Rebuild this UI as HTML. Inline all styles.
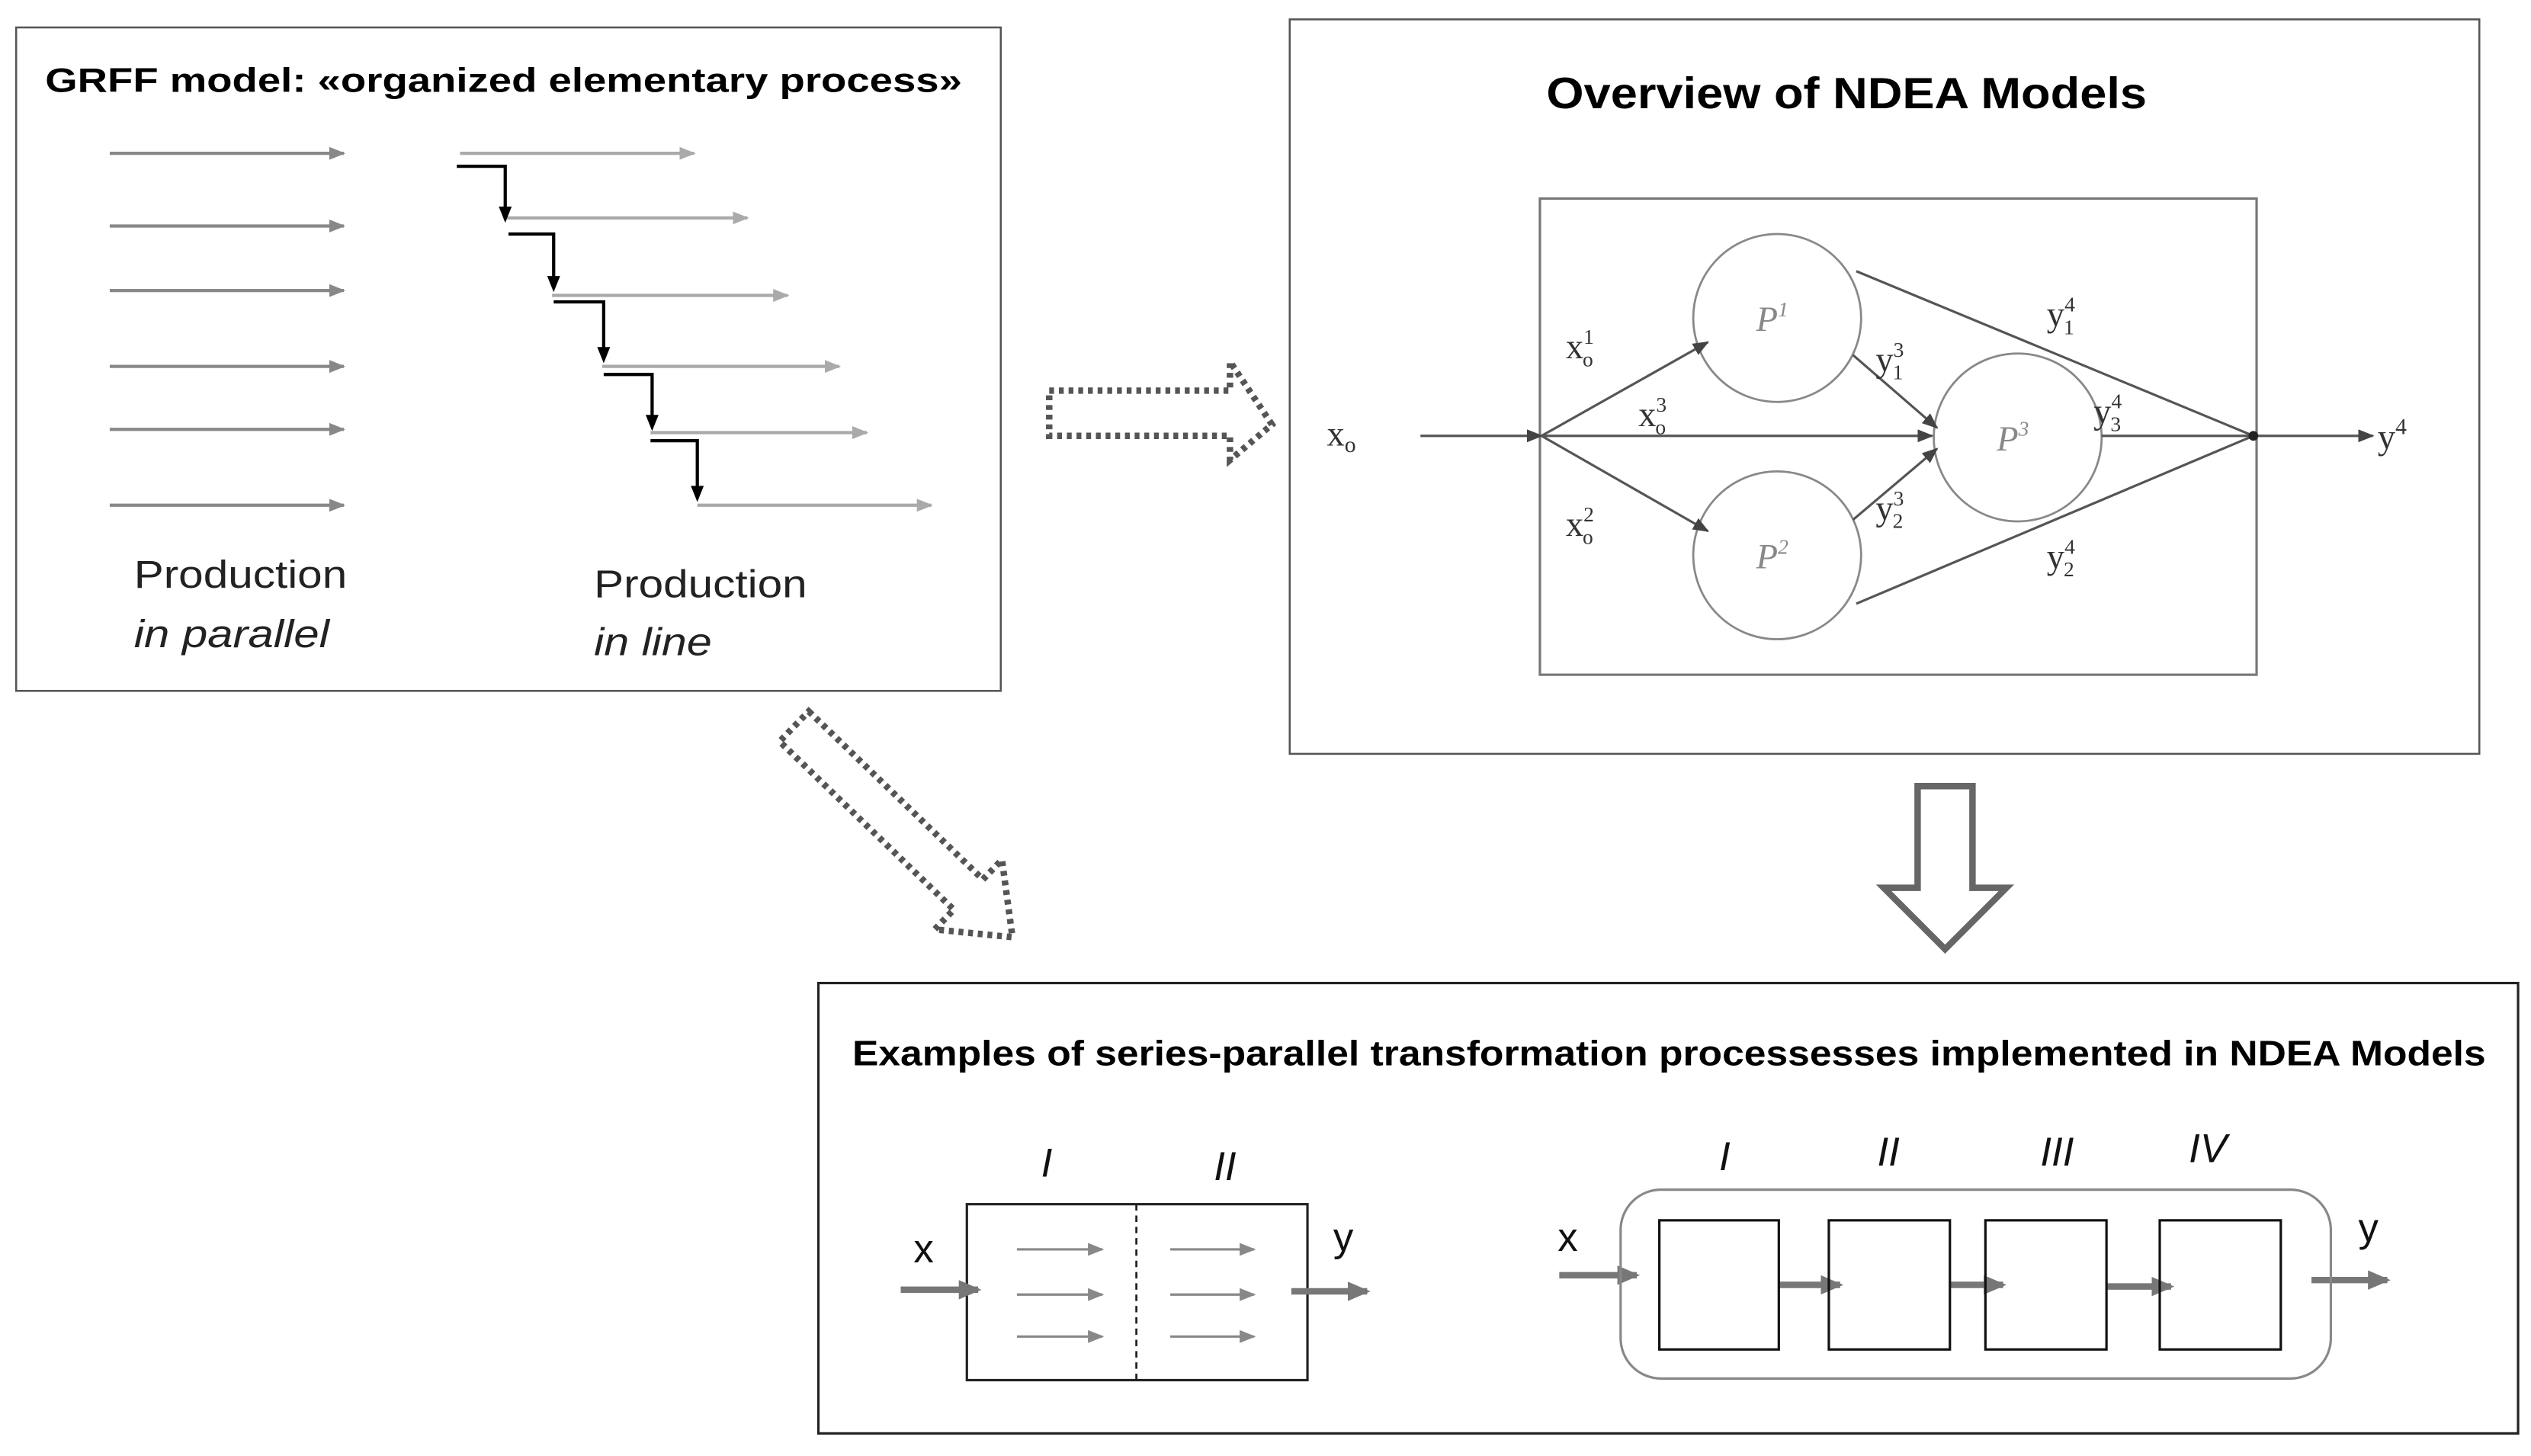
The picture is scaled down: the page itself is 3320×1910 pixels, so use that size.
<!DOCTYPE html>
<html><head><meta charset="utf-8"><style>html,body{margin:0;padding:0;background:#fff}svg{display:block}</style></head>
<body>
<svg width="3320" height="1910" viewBox="0 0 1568 902" preserveAspectRatio="none" xmlns="http://www.w3.org/2000/svg">
<defs>
<marker id="ag" markerWidth="10" markerHeight="8" refX="9" refY="4" orient="auto" markerUnits="userSpaceOnUse"><path d="M0,0 L10,4 L0,8 z" fill="#888"/></marker>
<marker id="agl" markerWidth="10" markerHeight="8" refX="9" refY="4" orient="auto" markerUnits="userSpaceOnUse"><path d="M0,0 L10,4 L0,8 z" fill="#aaa"/></marker>
<marker id="ad" markerWidth="10" markerHeight="8" refX="9" refY="4" orient="auto" markerUnits="userSpaceOnUse"><path d="M0,0 L10,4 L0,8 z" fill="#444"/></marker>
<marker id="at" markerWidth="14" markerHeight="12" refX="12" refY="6" orient="auto" markerUnits="userSpaceOnUse"><path d="M0,0 L14,6 L0,12 z" fill="#777"/></marker>
</defs>
<g font-family="Liberation Sans, sans-serif">
<rect x="10" y="17" width="610" height="411" fill="none" stroke="#555" stroke-width="1.2"/>
<text x="28" y="57" font-size="21" font-weight="bold" textLength="568" lengthAdjust="spacingAndGlyphs">GRFF model: «organized elementary process»</text>
<g stroke="#888" stroke-width="2" marker-end="url(#ag)">
<line x1="68" y1="95" x2="213" y2="95"/><line x1="68" y1="140" x2="213" y2="140"/><line x1="68" y1="180" x2="213" y2="180"/>
<line x1="68" y1="227" x2="213" y2="227"/><line x1="68" y1="266" x2="213" y2="266"/><line x1="68" y1="313" x2="213" y2="313"/>
</g>
<g stroke="#aaa" stroke-width="2" marker-end="url(#agl)">
<line x1="285" y1="95" x2="430" y2="95"/><line x1="312" y1="135" x2="463" y2="135"/><line x1="342" y1="183" x2="488" y2="183"/>
<line x1="373" y1="227" x2="520" y2="227"/><line x1="403" y1="268" x2="537" y2="268"/><line x1="432" y1="313" x2="577" y2="313"/>
</g>
<g stroke="#000" stroke-width="2" fill="none">
<polyline points="283,103 313,103 313,130"/><polyline points="315,145 343,145 343,173"/><polyline points="343,187 374,187 374,217"/>
<polyline points="374,232 404,232 404,259"/><polyline points="403,273 432,273 432,303"/>
</g>
<g fill="#000"><path d="M309,128 L317,128 L313,138z"/><path d="M339,171 L347,171 L343,181z"/><path d="M370,215 L378,215 L374,225z"/><path d="M400,257 L408,257 L404,267z"/><path d="M428,301 L436,301 L432,311z"/></g>
<text x="83" y="364" font-size="24" fill="#222" textLength="132" lengthAdjust="spacingAndGlyphs">Production</text>
<text x="83" y="401" font-size="24" font-style="italic" fill="#222" textLength="121" lengthAdjust="spacingAndGlyphs">in parallel</text>
<text x="368" y="370" font-size="24" fill="#222" textLength="132" lengthAdjust="spacingAndGlyphs">Production</text>
<text x="368" y="406" font-size="24" font-style="italic" fill="#222" textLength="73" lengthAdjust="spacingAndGlyphs">in line</text>
<path d="M650,242 L762,242 L762,224 L788,263 L762,285 L762,270 L650,270 Z" fill="none" stroke="#555" stroke-width="4" stroke-dasharray="3,3"/>
<rect x="799" y="12" width="737" height="455" fill="none" stroke="#555" stroke-width="1.2"/>
<text x="958" y="67" font-size="27" font-weight="bold" textLength="372" lengthAdjust="spacingAndGlyphs">Overview of NDEA Models</text>
<rect x="954" y="123" width="444" height="295" fill="none" stroke="#777" stroke-width="1.5"/>
<g fill="none" stroke="#888" stroke-width="1.3"><circle cx="1101" cy="197" r="52"/><circle cx="1101" cy="344" r="52"/><circle cx="1250" cy="271" r="52"/></g>
<g stroke="#555" stroke-width="1.5" marker-end="url(#ad)">
<line x1="880" y1="270" x2="955" y2="270"/>
<line x1="955" y1="270" x2="1058" y2="212"/><line x1="955" y1="270" x2="1197" y2="270"/><line x1="955" y1="270" x2="1058" y2="329"/>
<line x1="1148" y1="220" x2="1200" y2="265"/><line x1="1148" y1="322" x2="1200" y2="278"/>
<line x1="1396" y1="270" x2="1470" y2="270"/>
</g>
<g stroke="#555" stroke-width="1.5"><line x1="1302" y1="270" x2="1396" y2="270"/><line x1="1150" y1="168" x2="1396" y2="270"/><line x1="1150" y1="374" x2="1396" y2="270"/></g>
<circle cx="1396" cy="270" r="3" fill="#222"/>
<g font-family="Liberation Serif, serif" fill="#333" font-size="22">
<text x="822" y="276">x<tspan font-size="14" dy="4">o</tspan></text>
<text x="1473" y="278">y<tspan font-size="14" dy="-9">4</tspan></text>
<text x="970" y="222">x<tspan font-size="13" dy="-9">1</tspan><tspan font-size="13" dx="-7" dy="14">o</tspan></text>
<text x="1015" y="264">x<tspan font-size="13" dy="-9">3</tspan><tspan font-size="13" dx="-7" dy="14">o</tspan></text>
<text x="970" y="332">x<tspan font-size="13" dy="-9">2</tspan><tspan font-size="13" dx="-7" dy="14">o</tspan></text>
<text x="1162" y="230">y<tspan font-size="13" dy="-9">3</tspan><tspan font-size="13" dx="-7" dy="14">1</tspan></text>
<text x="1162" y="322">y<tspan font-size="13" dy="-9">3</tspan><tspan font-size="13" dx="-7" dy="14">2</tspan></text>
<text x="1268" y="202">y<tspan font-size="13" dy="-9">4</tspan><tspan font-size="13" dx="-7" dy="14">1</tspan></text>
<text x="1297" y="262">y<tspan font-size="13" dy="-9">4</tspan><tspan font-size="13" dx="-7" dy="14">3</tspan></text>
<text x="1268" y="352">y<tspan font-size="13" dy="-9">4</tspan><tspan font-size="13" dx="-7" dy="14">2</tspan></text>
<text x="1088" y="205" font-style="italic" fill="#888">P<tspan font-size="13" dy="-9">1</tspan></text>
<text x="1088" y="352" font-style="italic" fill="#888">P<tspan font-size="13" dy="-9">2</tspan></text>
<text x="1237" y="279" font-style="italic" fill="#888">P<tspan font-size="13" dy="-9">3</tspan></text>
</g>
<path d="M1188,487 L1222,487 L1222,550 L1243,550 L1205,588 L1167,550 L1188,550 Z" fill="#fff" stroke="#666" stroke-width="4"/>
<g transform="translate(492,450) rotate(44)">
<path d="M0,-13 L150,-13 L150,-30 L188,0 L150,30 L150,13 L0,13 Z" fill="none" stroke="#555" stroke-width="4" stroke-dasharray="3,3"/>
</g>
<rect x="507" y="609" width="1053" height="279" fill="none" stroke="#222" stroke-width="1.5"/>
<text x="528" y="660" font-size="22" font-weight="bold" textLength="1012" lengthAdjust="spacingAndGlyphs">Examples of series-parallel transformation processesses implemented in NDEA Models</text>
<rect x="599" y="746" width="211" height="109" fill="none" stroke="#222" stroke-width="1.5"/>
<line x1="704" y1="746" x2="704" y2="855" stroke="#222" stroke-width="1.3" stroke-dasharray="4,3"/>
<g font-size="25" fill="#111">
<text x="645" y="729" font-style="italic">I</text><text x="752" y="731" font-style="italic">II</text>
<text x="566" y="782">x</text><text x="826" y="775">y</text>
<text x="1065" y="725" font-style="italic">I</text><text x="1163" y="722" font-style="italic">II</text>
<text x="1264" y="722" font-style="italic">III</text><text x="1356" y="720" font-style="italic">IV</text>
<text x="965" y="775">x</text><text x="1461" y="769">y</text>
</g>
<g stroke="#777" stroke-width="4" marker-end="url(#at)">
<line x1="558" y1="799" x2="606" y2="799"/><line x1="800" y1="800" x2="847" y2="800"/>
<line x1="966" y1="790" x2="1014" y2="790"/><line x1="1432" y1="793" x2="1479" y2="793"/>
<line x1="1102" y1="796" x2="1140" y2="796"/><line x1="1208" y1="796" x2="1241" y2="796"/><line x1="1305" y1="797" x2="1345" y2="797"/>
</g>
<g stroke="#888" stroke-width="1.5" marker-end="url(#ag)">
<line x1="630" y1="774" x2="683" y2="774"/><line x1="630" y1="802" x2="683" y2="802"/><line x1="630" y1="828" x2="683" y2="828"/>
<line x1="725" y1="774" x2="777" y2="774"/><line x1="725" y1="802" x2="777" y2="802"/><line x1="725" y1="828" x2="777" y2="828"/>
</g>
<rect x="1004" y="737" width="440" height="117" rx="25" fill="none" stroke="#888" stroke-width="1.5"/>
<g fill="none" stroke="#111" stroke-width="1.5">
<rect x="1028" y="756" width="74" height="80"/><rect x="1133" y="756" width="75" height="80"/>
<rect x="1230" y="756" width="75" height="80"/><rect x="1338" y="756" width="75" height="80"/>
</g>
</g>
</svg>
</body></html>
